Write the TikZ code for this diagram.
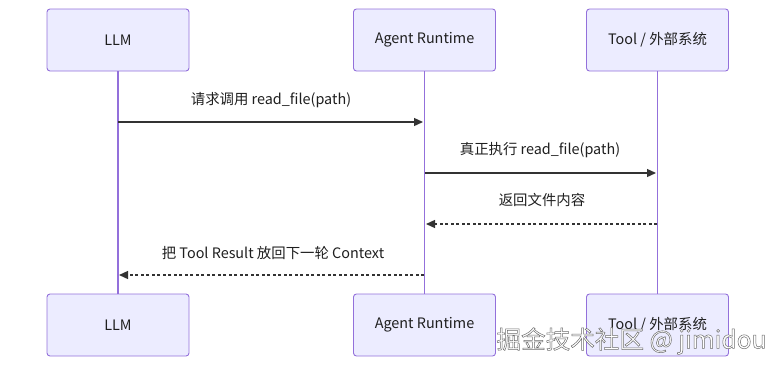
\documentclass[tikz,border=0pt]{standalone}
\usepackage{fontspec}
\setmainfont{Noto Sans CJK SC}
\newfontfamily\wmfont[FakeBold=2]{Noto Sans CJK SC}
\usetikzlibrary{arrows.meta}
\definecolor{boxfill}{HTML}{ECECFF}
\definecolor{boxline}{HTML}{9370DB}
\definecolor{msgline}{HTML}{333333}
\tikzset{
  actor/.style={draw=boxline, fill=boxfill, line width=0.9pt, rounded corners=3pt,
    minimum width=142pt, minimum height=62pt, font=\fontsize{14.4}{17}\selectfont, text=black!88, inner sep=0pt},
  lifeline/.style={draw=boxline, line width=1.3pt},
  msg/.style={draw=msgline, line width=1.3pt, -{Triangle[length=9pt,width=8pt]}},
  reply/.style={msg, dash pattern=on 3pt off 2.5pt},
  msglabel/.style={font=\fontsize{14.4}{17}\selectfont, text=black!88, inner sep=0pt},
  wm/.style={font=\wmfont\fontsize{24.6}{29}\selectfont, inner sep=0pt, anchor=center, text=white}
}
\begin{document}
\begin{tikzpicture}[x=1pt,y=-1pt]
\useasboundingbox (0,0) rectangle (784,370);
% top actors
\node[actor] (llm) at (118,40) {LLM};
\node[actor] (agent) at (424.5,40) {Agent Runtime};
\node[actor] (tool) at (657.5,40) {Tool / 外部系统};
% bottom actors
\node[actor] (llmb) at (118,325) {LLM};
\node[actor] (agentb) at (424.5,325) {Agent Runtime};
\node[actor] (toolb) at (657.5,325) {Tool / 外部系统};
% lifelines
\draw[lifeline] (llm.south) -- (llmb.north);
\draw[lifeline] (agent.south) -- (agentb.north);
\draw[lifeline] (tool.south) -- (toolb.north);
% message anchor coordinates
\coordinate (m1a) at (118,122);
\coordinate (m1b) at (423,122);
\coordinate (m2a) at (425,173);
\coordinate (m2b) at (656,173);
\coordinate (m3a) at (657,224);
\coordinate (m3b) at (426,224);
\coordinate (m4a) at (424,275);
\coordinate (m4b) at (119,275);
% messages
\draw[msg] (m1a) -- (m1b);
\node[msglabel] (t1) at (271,100) {请求调用 read\_file(path)};
\draw[msg] (m2a) -- (m2b);
\node[msglabel] (t2) at (540,150) {真正执行 read\_file(path)};
\draw[reply] (m3a) -- (m3b);
\node[msglabel] (t3) at (542,200) {返回文件内容};
\draw[reply] (m4a) -- (m4b);
\node[msglabel] (t4) at (273,253) {把 Tool Result 放回下一轮 Context};
% watermark: white fill, grey stroke
\node[wm] (wmk) at (631.5,341) {\special{pdf:literal direct 0.42 0.42 0.42 RG}掘金技术社区 @ jimidou};
\end{tikzpicture}
\end{document}
